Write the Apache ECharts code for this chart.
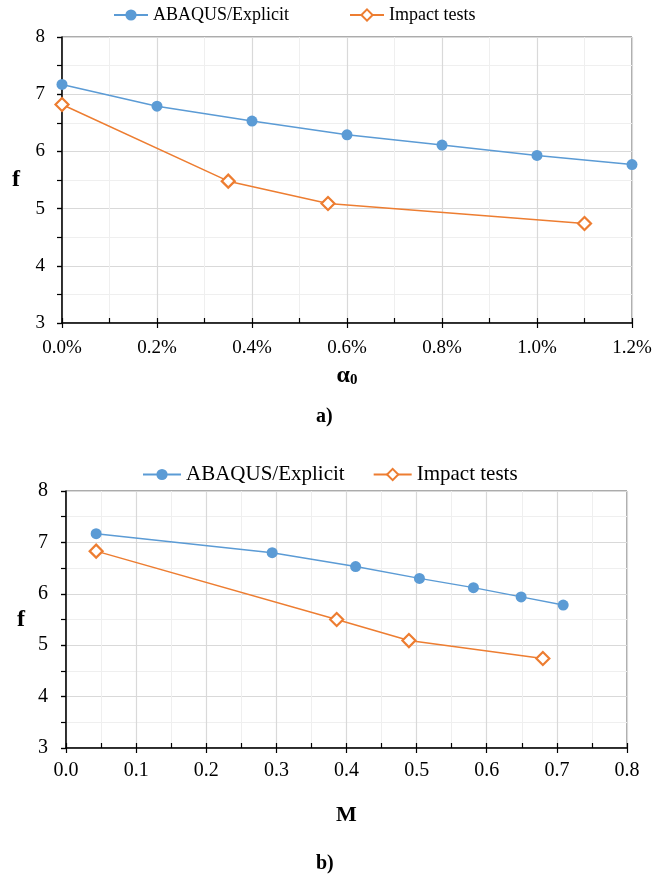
<!DOCTYPE html>
<html><head><meta charset="utf-8">
<script src="https://cdn.jsdelivr.net/npm/echarts@6/dist/echarts.min.js"></script>
<style>html,body{margin:0;padding:0;background:#fff}#c{width:655px;height:876px}</style>
</head><body><div id="c"></div>
<script>
// ---- data ----
const seriesNames = ['ABAQUS/Explicit', 'Impact tests'];
// chart a) : x = initial damage alpha0 (%)
const abaqusAlpha = [0, 0.2, 0.4, 0.6, 0.8, 1.0, 1.2];
const abaqusF_a   = [7.17, 6.79, 6.53, 6.29, 6.11, 5.93, 5.77];
const testAlpha   = [0, 0.35, 0.56, 1.10];
const testF_a     = [6.82, 5.48, 5.09, 4.74];
// chart b) : x = M
const abaqusM     = [0.043, 0.294, 0.413, 0.504, 0.581, 0.649, 0.709];
const abaqusF_b   = [7.17, 6.80, 6.53, 6.30, 6.12, 5.94, 5.78];
const testM       = [0.043, 0.386, 0.489, 0.680];
const testF_b     = [6.83, 5.50, 5.09, 4.74];
const panelLabels = ['a)', 'b)'];

const FONT = 'Liberation Serif';
const BLUE = '#5B9BD5', ORANGE = '#ED7D31';
const pairs = (xs, ys) => xs.map((x, i) => [x, ys[i]]);

function mainX(grid, min, max, interval, fmt, fs, margin, name, nameGap) {
  return {
    type: 'value', gridIndex: grid, min, max, interval, position: 'bottom',
    axisLine: { show: true, onZero: false, lineStyle: { color: '#000', width: 1.5 } },
    axisTick: { show: true, length: 5, lineStyle: { color: '#000', width: 1.2 } },
    axisLabel: { color: '#000', fontFamily: FONT, fontSize: fs, margin, formatter: fmt },
    splitLine: { show: true, lineStyle: { color: '#d9d9d9', width: 1.2 } },
    minorTick: { show: false, splitNumber: 2 },
    minorSplitLine: { show: true, lineStyle: { color: '#efefef', width: 1 } },
    name, nameLocation: 'middle', nameGap,
    nameTextStyle: { color: '#000', fontFamily: FONT, fontWeight: 'bold', fontSize: 22,
      rich: { a: { fontFamily: FONT, fontWeight: 'bold', fontSize: 24, color: '#000' },
              s: { fontFamily: FONT, fontWeight: 'bold', fontSize: 15, color: '#000', verticalAlign: 'bottom', padding: [10, 0, 0, 0] } } }
  };
}
function minorX(grid, min, max, interval) {
  return {
    type: 'value', gridIndex: grid, min, max, interval, position: 'bottom',
    axisLine: { show: false }, axisLabel: { show: false }, splitLine: { show: false },
    axisTick: { show: true, inside: true, length: 5, lineStyle: { color: '#000', width: 1.2 } }
  };
}
function mainY(grid, fs, margin, nameGap) {
  return {
    type: 'value', gridIndex: grid, min: 3, max: 8, interval: 1,
    axisLine: { show: true, onZero: false, lineStyle: { color: '#000', width: 1.5 } },
    axisTick: { show: true, length: 5, lineStyle: { color: '#000', width: 1.2 } },
    axisLabel: { color: '#000', fontFamily: FONT, fontSize: fs, margin },
    splitLine: { show: true, lineStyle: { color: '#d9d9d9', width: 1.2 } },
    minorTick: { show: false, splitNumber: 2 },
    minorSplitLine: { show: true, lineStyle: { color: '#efefef', width: 1 } },
    name: 'f', nameLocation: 'middle', nameGap, nameRotate: 0,
    nameTextStyle: { color: '#000', fontFamily: FONT, fontWeight: 'bold', fontSize: 24 }
  };
}
function minorY(grid) {
  return {
    type: 'value', gridIndex: grid, min: 3, max: 8, interval: 0.5,
    axisLine: { show: false }, axisLabel: { show: false }, splitLine: { show: false },
    axisTick: { show: true, inside: true, length: 5, lineStyle: { color: '#000', width: 1.2 } }
  };
}
function abaqusSeries(xi, yi, data) {
  return { name: seriesNames[0], type: 'line', xAxisIndex: xi, yAxisIndex: yi, data,
    symbol: 'circle', symbolSize: 11, lineStyle: { color: BLUE, width: 1.5 },
    itemStyle: { color: BLUE }, z: 3 };
}
function testSeries(xi, yi, data) {
  return { name: seriesNames[1], type: 'line', xAxisIndex: xi, yAxisIndex: yi, data,
    symbol: 'diamond', symbolSize: [13, 13], lineStyle: { color: ORANGE, width: 1.5 },
    itemStyle: { color: '#fff', borderColor: ORANGE, borderWidth: 2.2 }, z: 3 };
}
function legend(top, left, fs, itemWidth, itemGap) {
  return { top, left, data: seriesNames, itemWidth, itemHeight: 14, itemGap,
    textStyle: { color: '#000', fontFamily: FONT, fontSize: fs }, selectedMode: false };
}

const chart = echarts.init(document.getElementById('c'), null, { renderer: 'canvas' });
chart.setOption({
  animation: false,
  backgroundColor: '#fff',
  legend: [legend(1, 108, 18, 34, 60), legend(459, 137, 21, 38, 28)],
  grid: [
    { left: 62, top: 37, width: 570, height: 286, show: true, borderColor: '#595959', borderWidth: 1 },
    { left: 66, top: 491, width: 561, height: 257, show: true, borderColor: '#595959', borderWidth: 1 }
  ],
  xAxis: [
    mainX(0, 0, 1.2, 0.2, v => v.toFixed(1) + '%', 19, 16, '{a|α}{s|0}', 40),
    mainX(1, 0, 0.8, 0.1, v => v.toFixed(1), 20, 13, 'M', 56),
    minorX(0, 0, 1.2, 0.1),
    minorX(1, 0, 0.8, 0.05)
  ],
  yAxis: [mainY(0, 19, 17, 42), mainY(1, 20, 18, 41), minorY(0), minorY(1)],
  series: [
    abaqusSeries(0, 0, pairs(abaqusAlpha, abaqusF_a)),
    testSeries(0, 0, pairs(testAlpha, testF_a)),
    abaqusSeries(1, 1, pairs(abaqusM, abaqusF_b)),
    testSeries(1, 1, pairs(testM, testF_b))
  ],
  graphic: [
    { type: 'text', left: 316, top: 407, style: { text: panelLabels[0], font: 'bold 20px "Liberation Serif"', fill: '#000' } },
    { type: 'text', left: 316, top: 854, style: { text: panelLabels[1], font: 'bold 20px "Liberation Serif"', fill: '#000' } }
  ]
});
</script></body></html>
